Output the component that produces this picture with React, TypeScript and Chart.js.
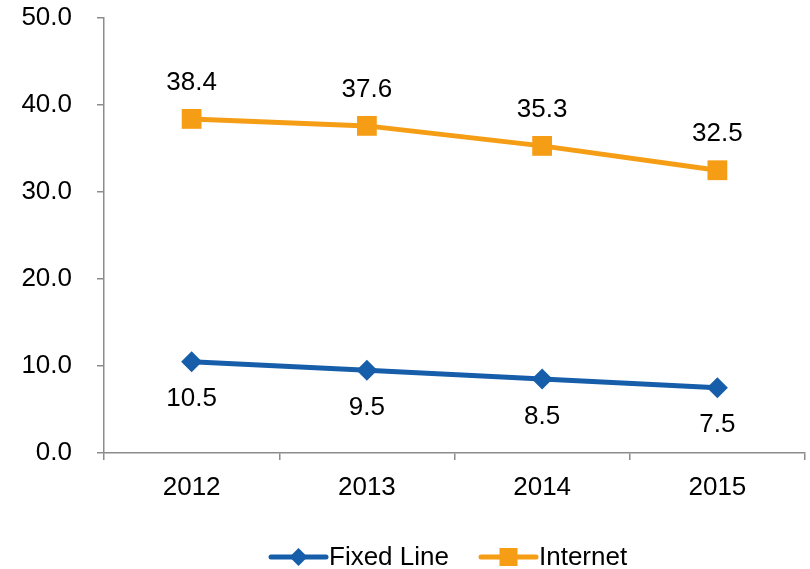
import React, { useEffect, useRef } from "react";
import { Chart, registerables } from "chart.js";

Chart.register(...registerables);

const years = ["2012", "2013", "2014", "2015"];
const fixedLine = [10.5, 9.5, 8.5, 7.5];
const internet = [38.4, 37.6, 35.3, 32.5];
const seriesNames = ["Fixed Line", "Internet"];

const BLUE = "#165EA9";
const ORANGE = "#F59D15";
const AXIS = "#8C8C8C";
const FONT = "'Liberation Sans', Arial, sans-serif";

const labelPlugin = {
  id: "valueLabels",
  afterDatasetsDraw(chart: any) {
    const ctx = chart.ctx;
    ctx.save();
    ctx.font = `26px ${FONT}`;
    ctx.fillStyle = "#000";
    ctx.textAlign = "center";
    ctx.textBaseline = "middle";
    chart.data.datasets.forEach((ds: any, i: number) => {
      const meta = chart.getDatasetMeta(i);
      meta.data.forEach((pt: any, j: number) => {
        const v = ds.data[j];
        const dy = i === 1 ? -36 : 37.5;
        ctx.fillText(v.toFixed(1), pt.x, pt.y + dy);
      });
    });
    ctx.restore();
  },
};

const legendPlugin = {
  id: "customLegend",
  afterDraw(chart: any) {
    const ctx = chart.ctx;
    const y = 557;
    const items = [
      { name: seriesNames[0], color: BLUE, shape: "diamond", x0: 271, x1: 326 },
      { name: seriesNames[1], color: ORANGE, shape: "square", x0: 481, x1: 536 },
    ];
    ctx.save();
    items.forEach((it) => {
      ctx.strokeStyle = it.color;
      ctx.lineWidth = 5;
      ctx.lineCap = "round";
      ctx.beginPath();
      ctx.moveTo(it.x0, y);
      ctx.lineTo(it.x1, y);
      ctx.stroke();
      const cx = (it.x0 + it.x1) / 2;
      ctx.fillStyle = it.color;
      ctx.beginPath();
      if (it.shape === "diamond") {
        ctx.moveTo(cx, y - 9);
        ctx.lineTo(cx + 9, y);
        ctx.lineTo(cx, y + 9);
        ctx.lineTo(cx - 9, y);
        ctx.closePath();
      } else {
        ctx.rect(cx - 9, y - 9, 18, 18);
      }
      ctx.fill();
      ctx.fillStyle = "#000";
      ctx.font = `26px ${FONT}`;
      ctx.textAlign = "left";
      ctx.textBaseline = "middle";
      ctx.fillText(it.name, it.x1 + 3, y + 1);
    });
    ctx.restore();
  },
};

export default function App() {
  const ref = useRef<HTMLCanvasElement>(null);
  useEffect(() => {
    if (!ref.current) return;
    const chart = new Chart(ref.current, {
      type: "line",
      data: {
        labels: years,
        datasets: [
          {
            label: seriesNames[0],
            data: fixedLine,
            borderColor: BLUE,
            backgroundColor: BLUE,
            borderWidth: 5,
            pointStyle: "rectRot",
            pointRadius: 10.5,
            pointBorderWidth: 0,
            pointBackgroundColor: BLUE,
            tension: 0,
          },
          {
            label: seriesNames[1],
            data: internet,
            borderColor: ORANGE,
            backgroundColor: ORANGE,
            borderWidth: 5,
            pointStyle: "rect",
            pointRadius: 14,
            pointBorderWidth: 0,
            pointBackgroundColor: ORANGE,
            tension: 0,
          },
        ],
      },
      options: {
        animation: false,
        responsive: false,
        events: [],
        layout: { autoPadding: false, padding: { left: 0, top: 18, right: 5, bottom: 56 } },
        plugins: {
          legend: { display: false },
          tooltip: { enabled: false },
        },
        scales: {
          x: {
            type: "category",
            offset: true,
            grid: {
              offset: true,
              drawOnChartArea: false,
              drawTicks: true,
              tickLength: 7,
              color: AXIS,
              lineWidth: 1.5,
            },
            border: { display: true, color: AXIS, width: 1.5 },
            ticks: {
              color: "#000",
              font: { family: FONT, size: 26 },
              padding: 12,
              maxRotation: 0,
            },
            afterFit(scale: any) {
              scale.height = 60;
              scale.paddingLeft = 0;
              scale.paddingRight = 0;
            },
          },
          y: {
            min: 0,
            max: 50,
            grid: {
              drawOnChartArea: false,
              drawTicks: true,
              tickLength: 7,
              color: AXIS,
              lineWidth: 1.5,
            },
            border: { display: true, color: AXIS, width: 1.5 },
            ticks: {
              stepSize: 10,
              color: "#000",
              font: { family: FONT, size: 26 },
              padding: 25,
              callback: (v: any) => Number(v).toFixed(1),
            },
            afterFit(scale: any) {
              scale.width = 104;
              scale.paddingTop = 0;
              scale.paddingBottom = 0;
            },
          },
        },
      },
      plugins: [labelPlugin, legendPlugin],
    });
    return () => chart.destroy();
  }, []);
  return (
    <div style={{ position: "fixed", left: 0, top: 0, width: 810, height: 569, background: "#fff" }}>
      <canvas ref={ref} width={810} height={569} style={{ width: 810, height: 569 }} />
    </div>
  );
}
